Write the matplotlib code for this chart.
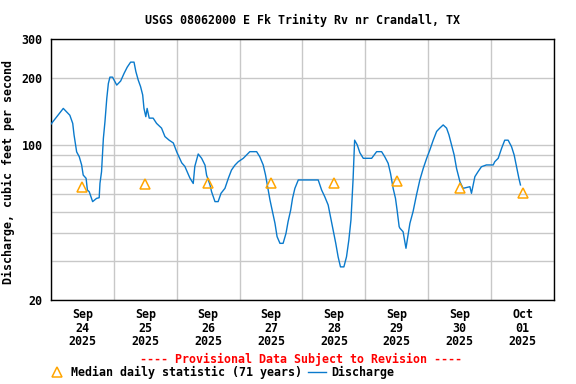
import pandas as pd
import matplotlib
matplotlib.use("Agg")
import matplotlib.pyplot as plt
import matplotlib.dates as mdates
from matplotlib.lines import Line2D
from matplotlib.ticker import FixedLocator, FixedFormatter, NullFormatter

plt.rcParams['font.family'] = ['DejaVu Sans Mono']
plt.rcParams['font.weight'] = 'bold'
FS = 8.35

# discharge, hours after Sep 24 00:00 and cubic feet per second
hours = [0, 4.7, 7.2, 8.3, 8.8, 9.8, 10.8, 11.7, 12.3, 13.4, 13.9, 14.6, 15.5, 15.9,
         17.4, 18.4, 18.7, 19.3, 20.0, 20.6, 21.3, 21.9, 22.5, 23.5, 25.1, 26.6,
         27.9, 29.1, 30.4, 31.7, 32.4, 33.3, 34.2, 35.0, 35.5, 36.2, 36.7, 37.5,
         39.0, 40.3, 42.2, 43.5, 45.1, 46.7, 48.0, 49.9, 51.1, 53.0, 54.3, 54.9,
         56.2, 57.5, 58.8, 59.4, 60.7, 61.3, 62.6, 63.8, 64.9, 66.4, 67.7, 68.9,
         70.2, 71.5, 73.4, 75.3, 75.9, 78.5, 79.7, 81.0, 81.9, 82.7, 83.6, 84.4,
         85.5, 86.3, 87.4, 88.6, 89.7, 90.5, 91.5, 92.2, 93.1, 94.4, 102.0, 103.3,
         104.5, 105.8, 106.7, 107.7, 108.7, 109.6, 110.5, 111.8, 112.8, 113.7,
         114.5, 115.3, 115.9, 116.9, 117.9, 119.2, 122.4, 124.3, 126.2, 127.4,
         128.7, 129.6, 130.6, 131.5, 132.1, 132.9, 133.2, 134.4, 135.5, 136.3,
         137.0, 138.2, 139.5, 140.8, 142.1, 143.4, 144.6, 145.9, 147.2, 148.4,
         149.7, 151.0, 151.9, 152.9, 153.9, 154.8, 156.1, 157.3, 159.9, 160.5,
         161.8, 163.0, 164.3, 166.2, 168.8, 169.4, 170.7, 172.0, 173.2, 174.5,
         175.8, 176.8, 177.7, 178.6, 179.2]
flow = [124, 146, 136, 125, 111, 93, 88.4, 81.2, 73.1, 70.7, 62.6, 61.5, 57.4, 55.5,
        57.4, 57.8, 67.1, 75.7, 107, 127, 162, 189, 202, 202, 186, 194,
        210, 224, 236, 236, 214, 196, 183, 168, 146, 134, 146, 132,
        132, 125, 119, 109, 105, 102, 93, 83, 80, 71, 67, 80,
        91, 87, 81, 73, 66, 61.5, 55.5, 55.5, 60.5, 63.7, 70.7, 77,
        81, 84, 87, 91.6, 93.2, 93.2, 88.4, 81.2, 73.1, 64.8, 56.4, 50.9,
        44.3, 38.6, 36.0, 36.0, 39.9, 45.1, 50.9, 57.4, 63.7, 69.5, 69.5, 62.6,
        58.4, 53.6, 47.5, 41.3, 36.0, 31.3, 28.2, 28.2, 31.3, 37.3,
        45.9, 69.5, 105, 100, 92.2, 87, 87, 93.2, 93.2, 88.4,
        82.6, 74.4, 63.7, 57.4, 50.9, 42.8, 42.1, 40.6, 34.2, 39.3,
        44.3, 50.0, 59.4, 69.5, 78.4, 87, 94.8, 105, 115, 119,
        123, 119, 111, 100, 90, 78.4, 68.2, 63.7, 64.8, 60.5,
        71.9, 75.7, 79.7, 81.2, 81.2, 84, 87, 96.5, 105, 105,
        98.1, 90, 79.7, 70.7, 66]

# median daily statistic, one per day at noon
median_days = ['2025-09-24', '2025-09-25', '2025-09-26', '2025-09-27',
               '2025-09-28', '2025-09-29', '2025-09-30', '2025-10-01']
median_vals = [64.5, 66.5, 67.5, 67.5, 67.5, 68.5, 64.0, 60.5]

start = pd.Timestamp('2025-09-24')
t = start + pd.to_timedelta(hours, unit='h')
tm = pd.to_datetime(median_days) + pd.Timedelta(hours=12)

blue = '#0a7acc'
orange = '#ffa500'

fig = plt.figure(figsize=(5.76, 3.84), dpi=100)
ax = fig.add_axes([0.0885, 0.2188, 0.8733, 0.6796])

ax.plot(t, flow, color=blue, lw=1.0, zorder=3)
ax.plot(tm, median_vals, ls='none', marker='^', ms=7, mfc='none',
        mec=orange, mew=1.1, zorder=4)

ax.set_yscale('log')
ax.set_ylim(20, 300)
ax.yaxis.set_major_locator(FixedLocator([20, 100, 200, 300]))
ax.yaxis.set_major_formatter(FixedFormatter(['20', '100', '200', '300']))
ax.yaxis.set_minor_locator(FixedLocator([30, 40, 50, 60, 70, 80, 90]))
ax.yaxis.set_minor_formatter(NullFormatter())

ax.set_xlim(start, start + pd.Timedelta(days=8))
ax.xaxis.set_major_locator(mdates.HourLocator(byhour=12))
ax.xaxis.set_major_formatter(mdates.DateFormatter('%b\n%d\n%Y'))
ax.xaxis.set_minor_locator(mdates.DayLocator())

ax.grid(True, which='major', axis='y', color='#c8c8c8', lw=1)
ax.grid(True, which='minor', axis='both', color='#c8c8c8', lw=1)
ax.tick_params(which='both', length=0, labelsize=FS)
ax.tick_params(axis='x', pad=6)
ax.tick_params(axis='y', pad=6)
for lab in ax.get_xticklabels():
    lab.set_fontweight('bold')
    lab.set_linespacing(1.05)
for lab in ax.get_yticklabels():
    lab.set_fontweight('bold')
for s in ax.spines.values():
    s.set_color('black')
    s.set_linewidth(1)

ax.set_title('USGS 08062000 E Fk Trinity Rv nr Crandall, TX', fontsize=FS,
             fontweight='bold', pad=11)
ax.set_ylabel('Discharge, cubic feet per second', fontsize=FS, fontweight='bold')
ax.yaxis.set_label_coords(-0.071, 0.49)

fig.text(0.523, 0.065, '---- Provisional Data Subject to Revision ----',
         color='red', fontsize=FS, fontweight='bold', ha='center', va='center')

handles = [Line2D([], [], ls='none', marker='^', ms=7, mfc='none', mec=orange, mew=1.1),
           Line2D([], [], color=blue, lw=1.0)]
fig.legend(handles, ['Median daily statistic (71 years)', 'Discharge'],
           loc='center left', bbox_to_anchor=(0.083, 0.031), ncol=2, frameon=False,
           fontsize=FS, handlelength=1.6, handletextpad=0.4, columnspacing=0.5,
           borderpad=0, borderaxespad=0)

fig.savefig('out.png', dpi=100)
